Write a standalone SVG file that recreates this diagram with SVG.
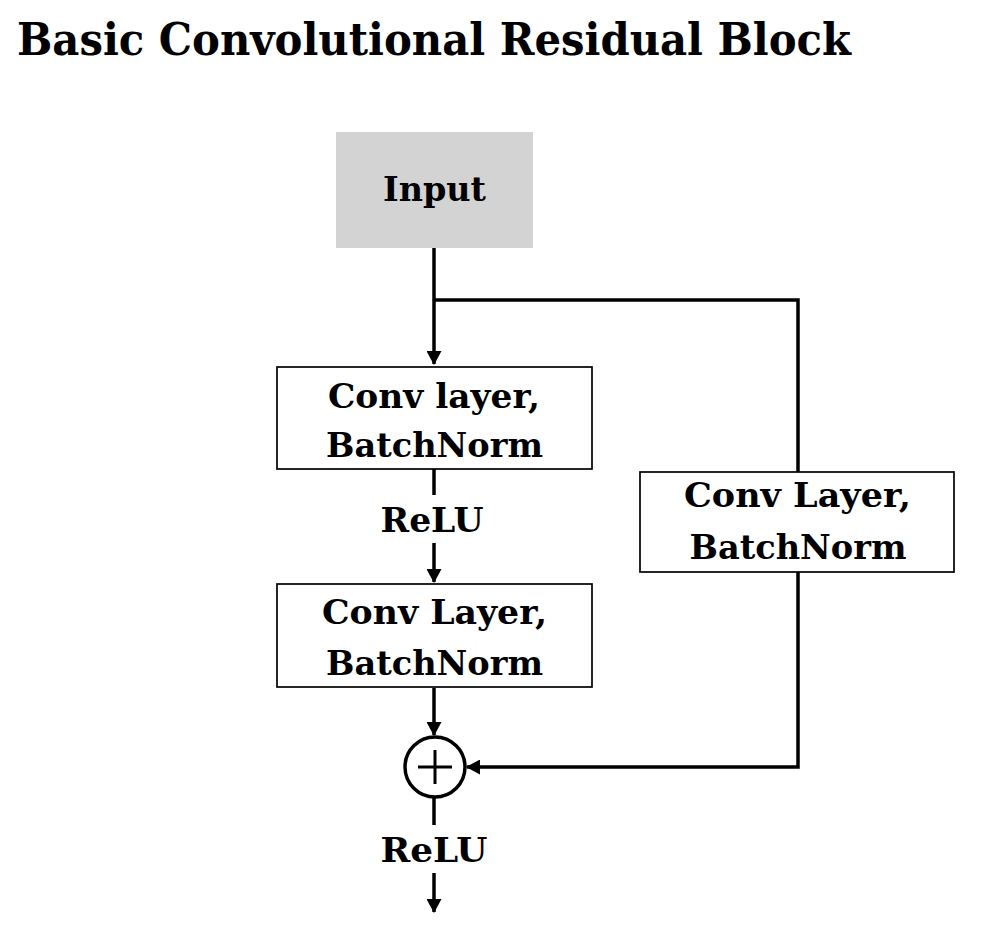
<svg xmlns="http://www.w3.org/2000/svg" width="986" height="936" viewBox="0 0 986 936">
<style>
text{font-family:"DejaVu Serif","Liberation Serif",serif;font-weight:bold;fill:#000;text-anchor:middle}
.t{font-size:33px}
.box{fill:#fff;stroke:#000;stroke-width:1.7}
.c{fill:none;stroke:#000;stroke-width:3.5}
</style>
<defs>
<marker id="ah" markerUnits="userSpaceOnUse" viewBox="0 0 14 15" refX="13" refY="7.5" markerWidth="14" markerHeight="15" orient="auto">
<path d="M0,0 L14,7.5 L0,15 z" fill="#000"/>
</marker>
</defs>
<rect width="986" height="936" fill="#fff"/>
<text x="434" y="55" style="font-size:44px" textLength="834" lengthAdjust="spacingAndGlyphs">Basic Convolutional Residual Block</text>
<g id="connectors">
<path class="c" d="M434,248 V364" marker-end="url(#ah)"/>
<path class="c" d="M434,300 H798 V472"/>
<path class="c" d="M434,469 V495"/>
<path class="c" d="M434,543 V582" marker-end="url(#ah)"/>
<path class="c" d="M434,688 V735" marker-end="url(#ah)"/>
<path class="c" d="M798,572 V767 H467" marker-end="url(#ah)"/>
<path class="c" d="M434,797 V825"/>
<path class="c" d="M434,873 V912" marker-end="url(#ah)"/>
<text class="t" x="432" y="532" textLength="103" lengthAdjust="spacingAndGlyphs">ReLU</text>
<text class="t" x="434" y="862" textLength="107" lengthAdjust="spacingAndGlyphs">ReLU</text>
</g>
<g id="input">
<rect x="336" y="132" width="197" height="116" fill="#d3d3d3"/>
<text class="t" x="434.5" y="201" textLength="103" lengthAdjust="spacingAndGlyphs">Input</text>
</g>
<g id="conv1">
<rect class="box" x="277" y="367" width="315" height="102"/>
<text class="t" x="434" y="408" textLength="212" lengthAdjust="spacingAndGlyphs">Conv layer,</text>
<text class="t" x="434.5" y="457" textLength="217" lengthAdjust="spacingAndGlyphs">BatchNorm</text>
</g>
<g id="conv2">
<rect class="box" x="277" y="584" width="315" height="103"/>
<text class="t" x="434.5" y="624" textLength="225" lengthAdjust="spacingAndGlyphs">Conv Layer,</text>
<text class="t" x="434.5" y="675" textLength="217" lengthAdjust="spacingAndGlyphs">BatchNorm</text>
</g>
<g id="conv3">
<rect class="box" x="640" y="472" width="314" height="100"/>
<text class="t" x="797.5" y="507" textLength="227" lengthAdjust="spacingAndGlyphs">Conv Layer,</text>
<text class="t" x="798" y="559" textLength="217" lengthAdjust="spacingAndGlyphs">BatchNorm</text>
</g>
<g id="add">
<circle cx="435" cy="767" r="30" fill="#fff" stroke="#000" stroke-width="3.5"/>
<path d="M418,767 H452 M435,750 V784" stroke="#000" stroke-width="3" fill="none"/>
</g>
</svg>
